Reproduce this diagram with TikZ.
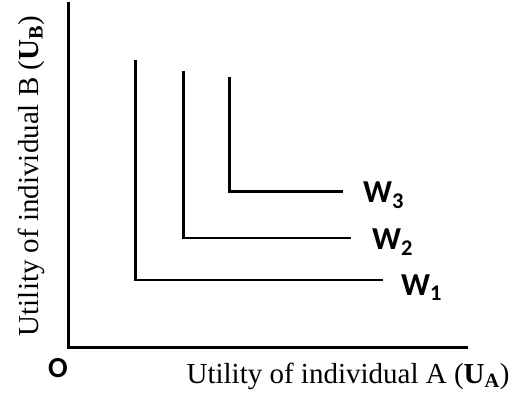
\documentclass[tikz,border=0pt]{standalone}
\usepackage{fontspec}
\setmainfont{Liberation Serif}
\newfontfamily\carl{Carlito}
\begin{document}
\begin{tikzpicture}[x=1pt,y=-1pt,
  axis/.style={line width=3pt,line cap=rect},
  curve/.style={line width=2.6pt},
  wlab/.style={font=\carl\bfseries\fontsize{32}{34}\selectfont,anchor=base west,inner sep=0pt},
  axlab/.style={font=\fontsize{29}{31}\selectfont,anchor=base,inner sep=0pt}]
\useasboundingbox (0,0) rectangle (526,396);
% axes
\coordinate (top) at (68,4);
\coordinate (O) at (68,347);
\coordinate (right) at (466,347);
\draw[axis] (top) -- (O) -- (right);
% W1
\coordinate (w1t) at (135.5,60);
\coordinate (w1c) at (135.5,280);
\coordinate (w1r) at (383,280);
\draw[curve] (w1t) -- (w1c) -- (w1r);
% W2
\coordinate (w2t) at (183.5,71);
\coordinate (w2c) at (183.5,238);
\coordinate (w2r) at (351,238);
\draw[curve] (w2t) -- (w2c) -- (w2r);
% W3
\coordinate (w3t) at (229.5,77);
\coordinate (w3c) at (229.5,191.5);
\coordinate (w3r) at (343,191.5);
\draw[curve] (w3t) -- (w3c) -- (w3r);
% labels
\node[wlab] (W3) at (363,202) {W\textsubscript{3}};
\node[wlab] (W2) at (372,249) {W\textsubscript{2}};
\node[wlab] (W1) at (401,295) {W\textsubscript{1}};
\node[font=\carl\bfseries\fontsize{29}{30}\selectfont,anchor=base,inner sep=0pt] (Olab) at (58,377) {O};
\node[axlab] (xlab) at (348,383) {Utility of individual A (\textbf{U}\textsubscript{\textbf{A}})};
\node[axlab,rotate=90] (ylab) at (38,176) {Utility of individual B (\textbf{U}\textsubscript{\textbf{B}})};
\end{tikzpicture}
\end{document}
